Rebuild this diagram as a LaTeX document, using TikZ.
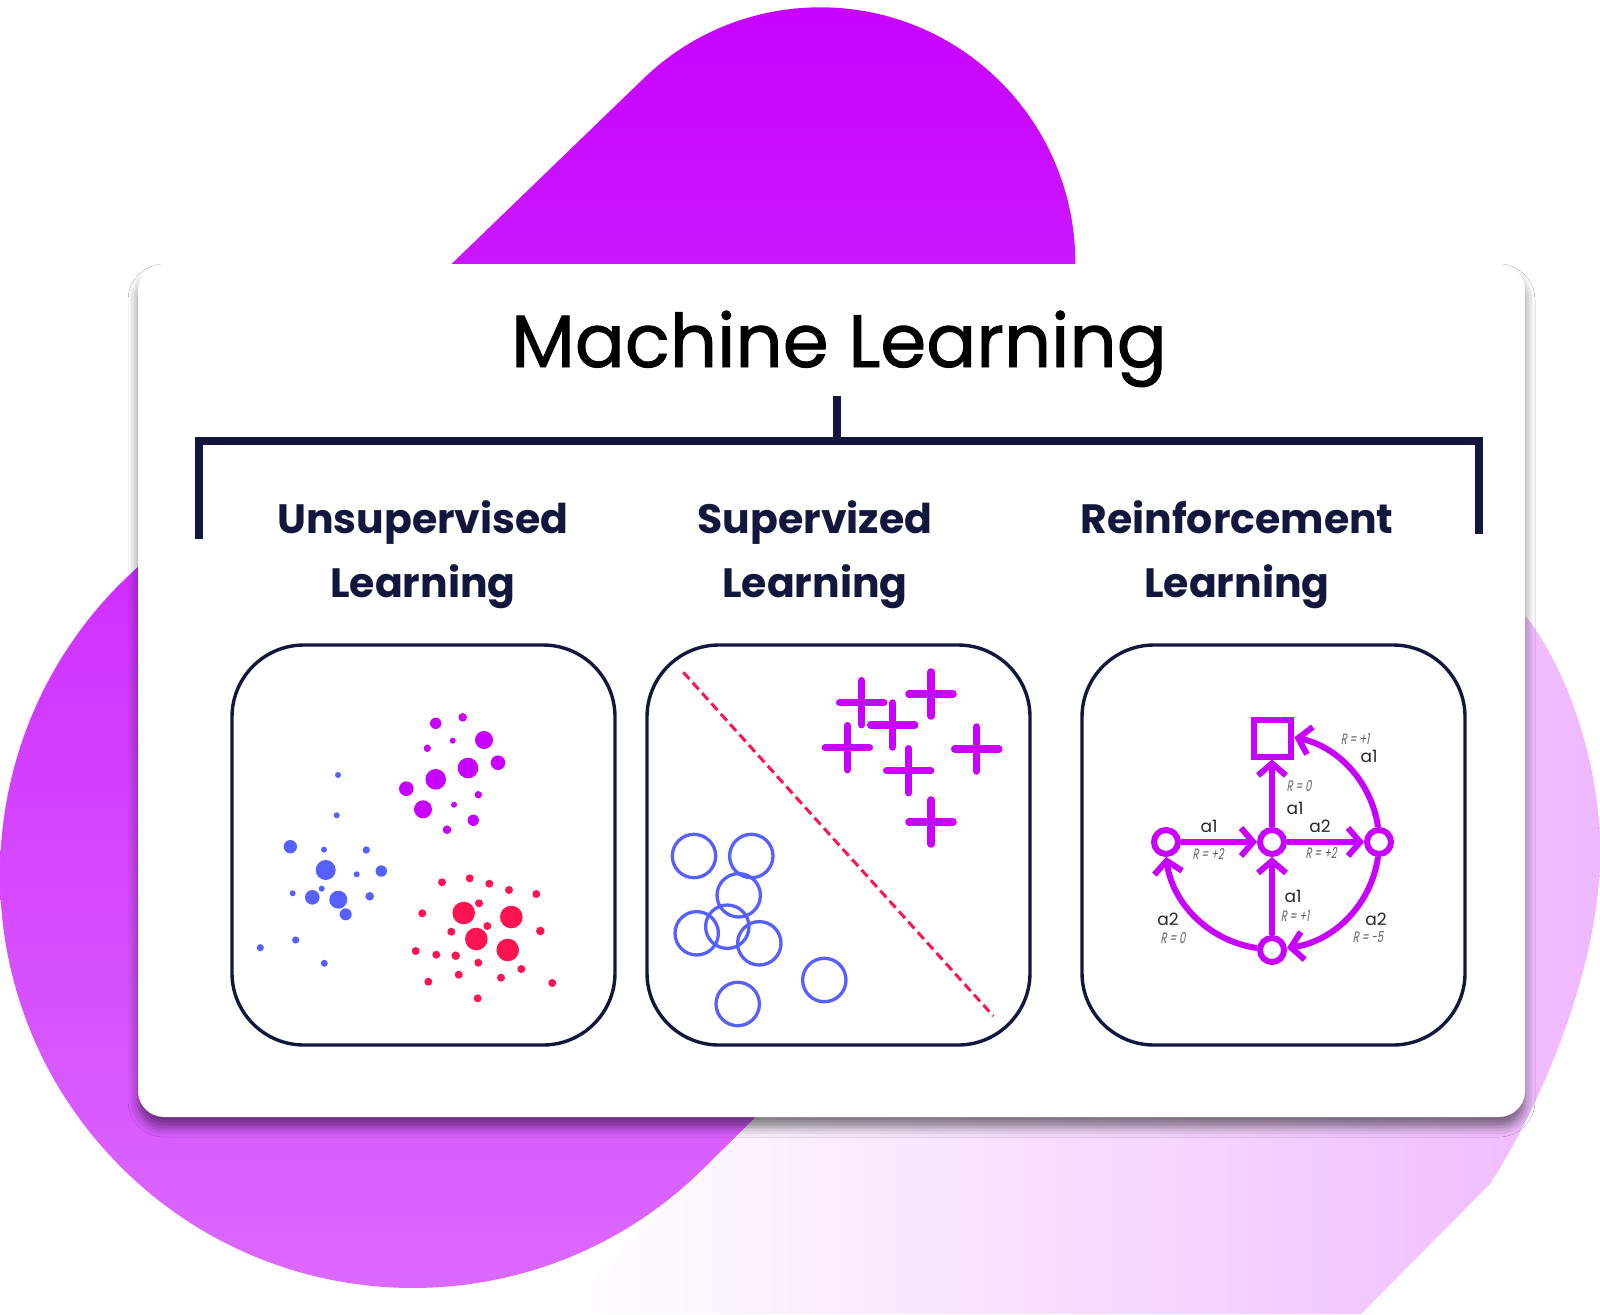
\documentclass[tikz,border=0pt]{standalone}
\usepackage{fontspec}
\setmainfont{Poppins}
\newfontfamily\rfont{Poppins}[FakeStretch=0.66,FakeSlant=0.18]
\newfontfamily\tfont{Poppins}[FakeBold=1.2]
\usetikzlibrary{arrows.meta,shadows,shadows.blur,calc}
\definecolor{navy}{HTML}{14173D}
\definecolor{mag}{HTML}{C800FF}
\definecolor{blu}{HTML}{5560FF}
\definecolor{redd}{HTML}{FF1452}
\definecolor{purtop}{HTML}{C600FF}
\definecolor{purbot}{HTML}{DC6CFF}
\definecolor{lav}{HTML}{EFB8FF}
\tikzset{
  bracketline/.style={draw=navy, line width=8pt, line join=miter},
  panel/.style={draw=navy, line width=3.4pt, rounded corners=72pt},
  titlestyle/.style={anchor=base, inner sep=0pt, text=black, font=\tfont\fontsize{74}{74}\selectfont},
  substyle/.style={anchor=base, inner sep=0pt, text=navy, font=\fontsize{41}{41}\selectfont\bfseries},
  ring/.style={circle, draw=mag, line width=6pt, fill=white, minimum size=24pt, inner sep=0pt},
  goal/.style={rectangle, draw=mag, line width=6pt, fill=white, minimum size=37pt, inner sep=0pt},
  edge/.style={draw=mag, line width=6pt, -{Straight Barb[length=12pt,width=28pt]}},
  alab/.style={inner sep=0pt, text=black!85, font=\fontsize{17}{17}\selectfont},
  rlab/.style={inner sep=0pt, text=black!62, font=\rfont\fontsize{15}{15}\selectfont},
  plusline/.style={draw=mag, line width=7.5pt, line cap=round},
  plusm/.pic={\draw[plusline] (-22,0) -- (22,0) (0,-22) -- (0,22);},
  ringline/.style={draw=blu, line width=3.3pt}
}
\begin{document}
\begin{tikzpicture}[x=1pt,y=-1pt]
\useasboundingbox (0,0) rectangle (1600,1314);
\fill[white] (0,0) rectangle (1600,1314);
% light blob (lower right)
\shade[left color=white, middle color=white, right color=lav]
  (1000,700) -- (1525,615) .. controls (1575,680) and (1602,780) .. (1600,860)
  .. controls (1598,960) and (1550,1090) .. (1490,1184) -- (1361,1314) -- (559,1314) -- (780,1093) -- cycle;
% purple blob
\shade[top color=purtop, bottom color=purbot]
  (121,583) -- (640,82) arc[start angle=225, end angle=360, radius=255]
  -- (1078,600) -- (780,1093) -- (705,1167)
  arc[start angle=45, end angle=225, radius=413] -- cycle;
% card
\fill[white, rounded corners=26pt, blur shadow={shadow xshift=0pt, shadow yshift=-10pt, shadow blur radius=10pt, shadow opacity=50}]
  (138,264) rectangle (1525,1117);
% title and bracket
\node[titlestyle] (ml) at (839,367) {Machine Learning};
\coordinate (bt) at (837,396);
\coordinate (bm) at (837,441);
\coordinate (bl) at (199,441);
\coordinate (br) at (1479,441);
\coordinate (bld) at (199,539);
\coordinate (brd) at (1479,534);
\draw[bracketline] (bt) -- (bm);
\draw[bracketline] (bld) -- (bl) -- (br) -- (brd);
% subtitles
\node[substyle] (u1) at (423,533) {Unsupervised};
\node[substyle] (u2) at (423,597) {Learning};
\node[substyle] (s1) at (815,533) {Supervized};
\node[substyle] (s2) at (815,597) {Learning};
\node[substyle] (r1) at (1237,533) {Reinforcement};
\node[substyle] (r2) at (1237,597) {Learning};
% panels
\draw[panel] (232,645) rectangle (615,1045);
\draw[panel] (647,645) rectangle (1030,1045);
\draw[panel] (1082,645) rectangle (1465,1045);
% panel 1 dots
\foreach \x/\y/\r in {435.7/723.3/5.7, 462.7/717.3/4.3, 484/740/9, 452.7/740.7/3, 427.3/748.3/3.7,
  498/762.7/7.3, 468/768/10.3, 435.7/779.3/10.3, 406.3/788.7/7.3, 478.3/794.7/3.7, 454/804.7/3,
  423/809.3/9, 473.3/820.3/5.7, 447/829.7/4.3}
  \fill[mag] (\x,\y) circle[radius=\r];
\foreach \x/\y/\r in {338/775/3, 336.7/815.3/3, 290.3/846.7/6.7, 324/849.7/3, 366.3/850/3.7,
  325.7/870/10, 381.3/871/5.7, 356.7/874.3/3, 292.7/893.3/3, 321.7/888.7/3, 312.3/897.3/7.3,
  338.3/899.7/9, 369.7/896.3/4.3, 345.7/914.3/6, 260.3/947.7/3.6, 295.7/940/3.6, 324.3/963.3/3.5}
  \fill[blu] (\x,\y) circle[radius=\r];
\foreach \x/\y/\r in {442/882.3/4, 469.7/878.3/4, 489.3/883.7/4, 509/890/4, 536.3/894/4,
  479/903.3/4, 422.3/913.3/4, 463.7/913/11.3, 511.3/917/11.3, 487.3/926/4, 451.3/931.7/4,
  476.3/939/11.3, 540.3/931/4.3, 415.7/951/4, 436.3/954.7/4, 455.7/955.7/4.3, 507.7/950/11.3,
  478.3/962.7/4, 521.3/969/4, 458.7/974.7/4, 501/977.7/4, 428.3/981.7/4, 552.3/983/4, 477.7/998.3/4}
  \fill[redd] (\x,\y) circle[radius=\r];
% panel 2
\draw[redd, line width=3pt, dash pattern=on 9pt off 5pt] (683.3,672.3) -- (993.3,1016);
\foreach \x/\y in {861.7/702.7, 931/694, 892.7/725, 847.3/747.7, 976.7/749, 908.7/770.7, 931/822}
  \pic at (\x,\y) {plusm};
\foreach \x/\y in {694/856, 751.3/856, 738.7/895.3, 696.7/933.3, 727.3/926.7, 759.3/943.3, 824.3/980, 737.7/1004}
  \draw[ringline] (\x,\y) circle[radius=21.7];
% panel 3
\node[ring] (C) at (1272,842) {};
\node[ring] (L) at (1166,842) {};
\node[ring] (R) at (1379,842) {};
\node[ring] (B) at (1272,950) {};
\node[goal] (T) at (1272,738) {};
\draw[edge] (L) -- (C);
\draw[edge] (C) -- (R);
\draw[edge] (C) -- (T);
\draw[edge] (B) -- (C);
\draw[edge] ($(C)+(106,-14.9)$) arc[start angle=-8, end angle=-78, radius=107];
\draw[edge] ($(C)+(106,14.9)$) arc[start angle=8, end angle=82, radius=107];
\draw[edge] ($(C)+(-14.9,106)$) arc[start angle=98, end angle=172, radius=107];
\node[rlab] (t1) at (1355,739) {R = +1};
\node[alab] (t2) at (1369,756) {a1};
\node[rlab] (t3) at (1299,786) {R = 0};
\node[alab] (t4) at (1295,808) {a1};
\node[alab] (t5) at (1209,826) {a1};
\node[rlab] (t6) at (1208,854) {R = +2};
\node[alab] (t7) at (1320,826) {a2};
\node[rlab] (t8) at (1321,853) {R = +2};
\node[alab] (t9) at (1293,896) {a1};
\node[rlab] (t10) at (1295,916) {R = +1};
\node[alab] (t11) at (1168,919) {a2};
\node[rlab] (t12) at (1173,938) {R = 0};
\node[alab] (t13) at (1376,919) {a2};
\node[rlab] (t14) at (1368,937) {R = -5};
\end{tikzpicture}
\end{document}
